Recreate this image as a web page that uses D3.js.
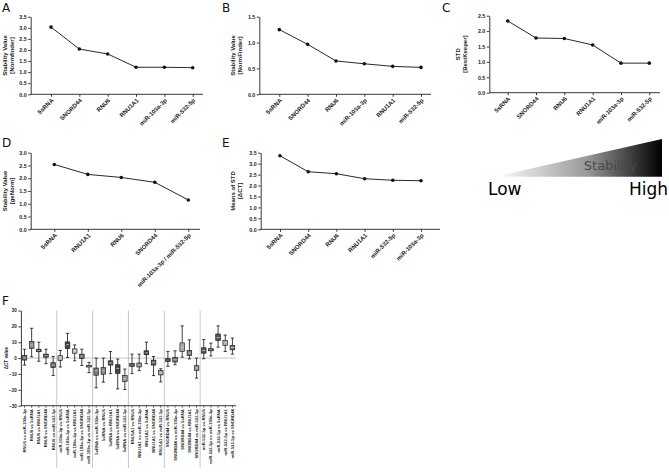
<!DOCTYPE html>
<html><head><meta charset="utf-8">
<script src="https://cdn.jsdelivr.net/npm/d3@7"></script>
<style>
body{margin:0;background:#fff}
svg{display:block}
</style>
</head><body>
<svg id="c" width="669" height="472" font-family="Liberation Sans, Arial, sans-serif"></svg>
<script>
// ---------- data ----------
const catsA = ["5sRNA","SNORD44","RNU6","RNU1A1","miR-103a-3p","miR-532-5p"];
const valsA = [3.03,2.04,1.82,1.22,1.22,1.20];
const ticksA = [0,0.5,1.0,1.5,2.0,2.5,3.0,3.5];

const catsB = ["5sRNA","SNORD44","RNU6","miR-103a-3p","RNU1A1","miR-532-5p"];
const valsB = [1.25,0.966,0.644,0.59,0.54,0.52];
const ticksB = [0,0.5,1.0,1.5];

const catsC = ["5sRNA","SNORD44","RNU6","RNU1A1","miR-103a-3p","miR-532-5p"];
const valsC = [2.33,1.775,1.76,1.55,0.96,0.96];
const ticksC = [0,0.5,1.0,1.5,2.0,2.5];

const catsD = ["5sRNA","RNU1A1","RNU6","SNORD44","miR-103a-3p  /  miR-532-5p"];
const valsD = [2.54,2.15,2.03,1.84,1.15];
const ticksD = [0,0.5,1.0,1.5,2.0,2.5,3.0];

const catsE = ["5sRNA","SNORD44","RNU6","RNU1A1","miR-532-5p","miR-103a-3p"];
const valsE = [3.36,2.63,2.54,2.31,2.24,2.22];
const ticksE = [0,0.5,1.0,1.5,2.0,2.5,3.0,3.5];

const fLabels = [
 "RNU6 vs miR-103a-3p","RNU6 vs 5sRNA","RNU6 vs RNU1A1","RNU6 vs SNORD44","RNU6 vs miR-532-5p",
 "miR-103a-3p vs RNU6","miR-103a-3p vs 5sRNA","miR-103a-3p vs RNU1A1","miR-103a-3p vs SNORD44","miR-103a-3p vs miR-532-5p",
 "5sRNA vs miR-103a-3p","5sRNA vs RNU6","5sRNA vs RNU1A1","5sRNA vs SNORD44","5sRNA vs miR-532-5p",
 "RNU1A1 vs RNU6","RNU1A1 vs miR-103a-3p","RNU1A1 vs 5sRNA","RNU1A1 vs SNORD44","RNU1A1 vs miR-532-5p",
 "SNORD44 vs RNU6","SNORD44 vs miR-103a-3p","SNORD44 vs 5sRNA","SNORD44 vs RNU1A1","SNORD44 vs miR-532-5p",
 "miR-532-5p vs RNU6","miR-532-5p vs miR-103a-3p","miR-532-5p vs 5sRNA","miR-532-5p vs RNU1A1","miR-532-5p vs SNORD44"];
const fMin = [-4.4,0.8,-2.0,-3.5,-11.0, -5.6,0.4,-1.7,-4.6,-9.2, -18.7,-15.2,-9.8,-19.4,-19.8, -9.8,-7.9,-3.5,-11.0,-15.0, -5.2,-4.2,0.6,-0.5,-12.6, -0.4,1.4,6.9,4.2,2.5];
const fQ1  = [-1.25,6.1,4.0,0.6,-6.0, -1.5,6.0,3.1,-0.2,-5.6, -10.8,-10.2,-4.4,-9.6,-14.8, -5.2,-5.6,2.1,-4.4,-10.6, -2.1,-2.5,4.2,1.6,-7.8, 3.1,4.6,11.1,8.0,5.2];
const fMed = [0.2,8.3,4.8,1.5,-4.4, 0.0,8.5,4.6,1.25,-5.1, -7.9,-7.9,-3.1,-6.5,-12.9, -4.4,-4.4,3.3,-2.7,-9.4, -1.25,-1.0,6.9,3.1,-6.2, 4.8,5.3,13.0,9.6,6.7];
const fQ3  = [1.7,10.6,5.6,2.5,-2.9, 1.5,10.2,5.8,2.5,-4.6, -6.25,-6.0,-1.7,-4.2,-11.0, -3.5,-3.1,4.6,-1.25,-7.9, -0.4,0.4,9.6,4.7,-4.8, 6.5,5.9,15.2,11.0,8.0];
const fMax = [5.6,18.8,10.0,5.6,1.0, 4.8,15.6,8.3,5.6,-2.7, 0.0,0.0,4.2,-0.6,-6.9, 2.5,2.5,10.0,1.0,-6.7, 4.2,4.6,20.3,11.5,0.0, 11.7,9.4,20.3,14.5,12.6];
const fTicks = [-30,-20,-10,0,10,20,30];
const fShades = ["#707070","#8a8a8a","#3c3c3c","#555","#6a6a6a",
                 "#b4b4b4","#444","#c0c0c0","#666","#333",
                 "#7a7a7a","#888","#555","#444","#9a9a9a",
                 "#3a3a3a","#8c8c8c","#444","#606060","#a8a8a8",
                 "#333","#707070","#a8a8a8","#777","#909090",
                 "#555","#333","#555","#aaa","#7a7a7a"];

// ---------- drawing ----------
const svg = d3.select("#c");
const BOLD = 700;
const LIB = "Liberation Sans, Arial, sans-serif";
const DJV = "DejaVu Sans, sans-serif";

function letter(t, x, y){
  svg.append("text").attr("x",x).attr("y",y).text(t)
    .attr("font-family",DJV).attr("font-size",12).attr("fill","#111");
}

function linePanel(cfg){
  const g = svg.append("g");
  const x = d3.scalePoint().domain(cfg.cats).range([cfg.first, cfg.last]);
  const y = d3.scaleLinear().domain([0, cfg.yMax]).range([cfg.y0, cfg.yTop]);
  const ya = g.append("g").attr("transform",`translate(${cfg.left},0)`)
    .call(d3.axisLeft(y).tickValues(cfg.ticks).tickFormat(d3.format(".1f")).tickSize(2.5).tickSizeOuter(0).tickPadding(1.5));
  ya.attr("font-family",LIB);
  ya.selectAll("text").attr("font-size",5.3).attr("font-weight",BOLD).attr("fill","#222");
  ya.selectAll("line,path").attr("stroke","#222").attr("stroke-width",0.9);
  const xa = g.append("g").attr("transform",`translate(0,${cfg.y0})`)
    .call(d3.axisBottom(x).tickSize(2.5).tickSizeOuter(0));
  xa.attr("font-family",LIB);
  xa.select(".domain").remove();
  xa.selectAll("line").attr("stroke","#222").attr("stroke-width",0.9);
  xa.selectAll("text").attr("x",0).attr("y",0).attr("dy","0.35em")
    .attr("transform","translate(1,5) rotate(-45)").attr("text-anchor","end")
    .attr("font-size",6).attr("font-weight",BOLD).attr("fill","#222");
  g.append("line").attr("x1",cfg.left).attr("x2",cfg.right).attr("y1",cfg.y0).attr("y2",cfg.y0)
    .attr("stroke","#222").attr("stroke-width",0.9);
  const ymid = (cfg.y0 + cfg.yTop)/2;
  const yl = g.append("text").attr("transform",`translate(${cfg.ylabX},${ymid}) rotate(-90)`)
    .attr("text-anchor","middle").attr("font-size",6).attr("font-weight",BOLD).attr("fill","#222");
  yl.append("tspan").attr("x",0).attr("dy",0).text(cfg.ylab1);
  yl.append("tspan").attr("x",0).attr("dy","1.1em").text(cfg.ylab2);
  const line = d3.line().x((d,i)=>x(cfg.cats[i])).y(d=>y(d));
  g.append("path").datum(cfg.vals).attr("d",line).attr("fill","none").attr("stroke","#111").attr("stroke-width",0.9);
  g.selectAll("circle.pt").data(cfg.vals).join("circle").attr("class","pt")
    .attr("cx",(d,i)=>x(cfg.cats[i])).attr("cy",d=>y(d)).attr("r",1.8).attr("fill","#111");
}

linePanel({cats:catsA, vals:valsA, ticks:ticksA, yMax:3.5, left:30.7, right:203, y0:94.3, yTop:16.7, first:51, last:192.7, ylab1:"Stability Value", ylab2:"[Normfinder]", ylabX:7});
linePanel({cats:catsB, vals:valsB, ticks:ticksB, yMax:1.5, left:259.3, right:431, y0:94.3, yTop:16.7, first:279.3, last:421, ylab1:"Stability Value", ylab2:"[NormFinder]", ylabX:235});
linePanel({cats:catsC, vals:valsC, ticks:ticksC, yMax:2.5, left:489.3, right:660, y0:92.7, yTop:15.7, first:507.7, last:649.3, ylab1:"STD", ylab2:"[BestKeeper]", ylabX:460});
linePanel({cats:catsD, vals:valsD, ticks:ticksD, yMax:3.0, left:30.7, right:200, y0:229.3, yTop:152.7, first:54.3, last:188.3, ylab1:"Stability Value", ylab2:"[geNorm]", ylabX:7});
linePanel({cats:catsE, vals:valsE, ticks:ticksE, yMax:3.5, left:260.7, right:440, y0:229.3, yTop:152.7, first:280, last:421, ylab1:"Means of STD", ylab2:"[\u0394CT]", ylabX:235});

letter("A",2,12); letter("B",222,12); letter("C",442,12);
letter("D",2,147); letter("E",222,147); letter("F",2,305);

// ---------- gradient legend ----------
const defs = svg.append("defs");
const grad = defs.append("linearGradient").attr("id","stab").attr("x1","0%").attr("x2","100%").attr("y1","0%").attr("y2","0%");
grad.append("stop").attr("offset","0%").attr("stop-color","#ffffff");
grad.append("stop").attr("offset","55%").attr("stop-color","#999999");
grad.append("stop").attr("offset","100%").attr("stop-color","#000000");
svg.append("path").attr("d","M495,176.7 L662,139 L662,176.7 Z").attr("fill","url(#stab)");
svg.append("text").attr("x",637).attr("y",170).attr("text-anchor","end").text("Stability")
  .attr("font-family",DJV).attr("font-size",13).attr("fill","#4a4a4a");
svg.append("text").attr("x",488).attr("y",195).text("Low")
  .attr("font-family",DJV).attr("font-size",17).attr("fill","#000");
svg.append("text").attr("x",668).attr("y",195).attr("text-anchor","end").text("High")
  .attr("font-family",DJV).attr("font-size",17).attr("fill","#000");

// ---------- panel F ----------
(function(){
  const L = 20.9, R = 236, Y0 = 405.7, YT = 310.5;
  const g = svg.append("g");
  const x = d3.scaleBand().domain(fLabels).range([L,R]).paddingInner(0.35).paddingOuter(0.175);
  const y = d3.scaleLinear().domain([-30,30]).range([Y0,YT]);
  const step = x.step();
  for(let k=1;k<6;k++){
    const sx = L + k*5*step;
    g.append("line").attr("x1",sx).attr("x2",sx).attr("y1",YT).attr("y2",468)
      .attr("stroke","#b0b0b0").attr("stroke-width",0.7);
  }
  g.append("line").attr("x1",L).attr("x2",R).attr("y1",y(0)).attr("y2",y(0))
    .attr("stroke","#b0b0b0").attr("stroke-width",0.7);
  const ya = g.append("g").attr("transform",`translate(${L},0)`)
    .call(d3.axisLeft(y).tickValues(fTicks).tickSize(2.5).tickSizeOuter(0).tickPadding(1.5));
  ya.attr("font-family",LIB);
  ya.selectAll("text").attr("font-size",4.6).attr("font-weight",BOLD).attr("fill","#222");
  ya.selectAll("line,path").attr("stroke","#222").attr("stroke-width",0.9);
  const xa = g.append("g").attr("transform",`translate(0,${Y0})`)
    .call(d3.axisBottom(x).tickSize(2).tickSizeOuter(0));
  xa.attr("font-family",LIB);
  xa.select(".domain").remove();
  xa.selectAll("line").attr("stroke","#222").attr("stroke-width",0.7);
  xa.selectAll("text").attr("x",0).attr("y",0).attr("dy","0.35em")
    .attr("transform","translate(0,3.5) rotate(-90)").attr("text-anchor","end")
    .attr("font-size",4.2).attr("font-weight",BOLD).attr("fill","#222");
  g.append("line").attr("x1",L).attr("x2",R).attr("y1",Y0).attr("y2",Y0).attr("stroke","#222").attr("stroke-width",0.9);
  g.append("text").attr("transform",`translate(8,${y(0)}) rotate(-90)`).attr("text-anchor","middle")
    .attr("font-size",4.6).attr("font-weight",BOLD).attr("fill","#222").text("\u0394CT value");
  const bw = x.bandwidth();
  fLabels.forEach((lab,i)=>{
    const cx = x(lab) + bw/2;
    const bg = g.append("g");
    bg.append("line").attr("x1",cx).attr("x2",cx).attr("y1",y(fMax[i])).attr("y2",y(fMin[i])).attr("stroke","#111").attr("stroke-width",0.8);
    [fMax[i], fMin[i]].forEach(v=>{
      bg.append("line").attr("x1",cx-1.6).attr("x2",cx+1.6).attr("y1",y(v)).attr("y2",y(v)).attr("stroke","#111").attr("stroke-width",0.8);
    });
    bg.append("rect").attr("x",cx-bw/2).attr("width",bw).attr("y",y(fQ3[i])).attr("height",Math.max(0.8,y(fQ1[i])-y(fQ3[i])))
      .attr("fill",fShades[i]).attr("stroke","#111").attr("stroke-width",0.6);
    bg.append("line").attr("x1",cx-bw/2+0.8).attr("x2",cx+bw/2-0.8).attr("y1",y(fMed[i])).attr("y2",y(fMed[i]))
      .attr("stroke","#e8e8e8").attr("stroke-width",0.6);
  });
})();
</script>
</body></html>
